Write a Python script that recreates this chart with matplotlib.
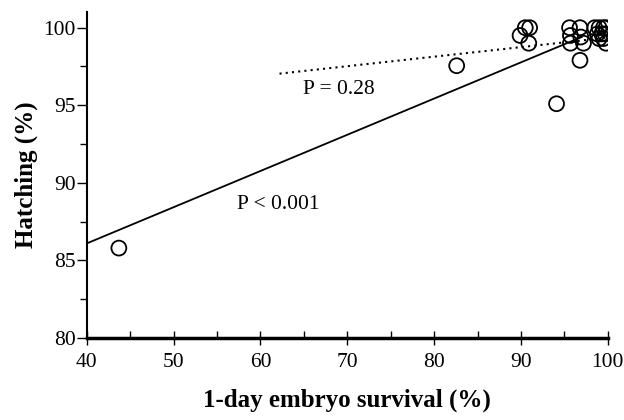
import numpy as np
import matplotlib.pyplot as plt
from matplotlib.ticker import MultipleLocator

# embryo survival (%) vs hatching (%)
survival = [43.7, 82.6, 94.1, 89.9, 90.5, 91.0, 90.9,
            95.6, 95.7, 95.7, 96.8, 96.9, 97.2, 96.8,
            98.5, 99.0, 99.5, 99.8, 98.8, 99.3, 99.7, 99.0, 99.5, 99.8]
hatching = [85.8, 97.55, 95.1, 99.5, 100.0, 100.0, 99.0,
            100.0, 99.5, 99.0, 100.0, 99.4, 99.0, 97.9,
            100.0, 100.0, 100.0, 100.0, 99.6, 99.6, 99.6, 99.3, 99.3, 99.0]

# regression lines (end points)
fit_all_x = [40.0, 97.0]
fit_all_y = [86.1, 99.4]
fit_sub_x = [62.2, 99.8]
fit_sub_y = [97.04, 99.35]

plt.rcParams['font.family'] = ['Liberation Serif', 'DejaVu Serif']

fig = plt.figure(figsize=(6.24, 4.2), dpi=100)
ax = fig.add_axes([0.139, 0.195, 0.835, 0.776])

ax.plot(fit_all_x, fit_all_y, color='black', lw=1.3)
ax.plot(fit_sub_x, fit_sub_y, color='black', lw=1.5, linestyle=(0, (1, 2)))
ax.scatter(survival, hatching, s=115, facecolors='none', edgecolors='black',
           linewidths=1.3, zorder=3)

ax.text(64.9, 96.0, "P = 0.28", fontsize=15.5, va='center', ha='left')
ax.text(57.3, 88.6, "P < 0.001", fontsize=15.5, va='center', ha='left')

ax.set_xlim(40, 100)
ax.set_ylim(80, 101)
ax.xaxis.set_major_locator(MultipleLocator(10))
ax.xaxis.set_minor_locator(MultipleLocator(5))
ax.yaxis.set_major_locator(MultipleLocator(5))
ax.yaxis.set_minor_locator(MultipleLocator(2.5))

ax.spines['top'].set_visible(False)
ax.spines['right'].set_visible(False)
ax.spines['bottom'].set_linewidth(2.5)
ax.spines['left'].set_linewidth(1.5)

ax.tick_params(axis='x', which='major', direction='inout', length=10, width=1, labelsize=15.5, pad=6)
ax.tick_params(axis='x', which='minor', direction='in', length=5, width=1)
ax.tick_params(axis='y', which='major', direction='out', length=7, width=1, labelsize=15.5, pad=1)
ax.tick_params(axis='y', which='minor', direction='out', length=5, width=1)

ax.set_xlabel("1-day embryo survival (%)", fontsize=18, fontweight='bold', labelpad=12)
ax.set_ylabel("Hatching (%)", fontsize=18, fontweight='bold', labelpad=4)

fig.savefig("out.png", dpi=100)
